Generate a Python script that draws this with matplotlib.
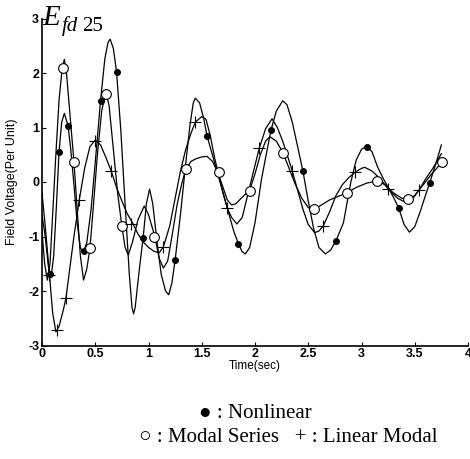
import matplotlib
matplotlib.use("Agg")
import matplotlib.pyplot as plt

# ---- Nonlinear curve ----
t_non = [0.0, 0.03, 0.06, 0.085, 0.11, 0.135, 0.16, 0.185, 0.21, 0.245, 0.27, 0.30, 0.33, 0.36, 0.385,
         0.42, 0.46, 0.50, 0.55, 0.59, 0.62, 0.64, 0.67, 0.70, 0.74, 0.78, 0.82, 0.845, 0.86,
         0.875, 0.90, 0.92, 0.95, 0.98, 1.01, 1.04, 1.08, 1.12, 1.16, 1.19,
         1.22, 1.25, 1.30, 1.35, 1.39, 1.42, 1.44, 1.48, 1.52, 1.55, 1.60, 1.65, 1.70, 1.75, 1.80,
         1.845, 1.88, 1.91, 1.95, 2.00, 2.06, 2.10, 2.15, 2.20, 2.26, 2.30, 2.35, 2.40, 2.45, 2.50,
         2.55, 2.60, 2.66, 2.71, 2.76, 2.83, 2.90, 2.95, 3.00, 3.05, 3.10, 3.15, 3.20, 3.25, 3.30,
         3.35, 3.40, 3.45, 3.50, 3.55, 3.60, 3.64, 3.70, 3.75]
v_non = [-0.6, -1.0, -1.55, -1.75, -1.35, -0.45, 0.55, 1.1, 1.26, 1.03, 0.6, -0.05, -0.75, -1.2, -1.3,
         -1.12, -0.52, 0.36, 1.5, 2.26, 2.56, 2.62, 2.45, 2.02, 0.95, -0.4, -1.7, -2.3, -2.42,
         -2.3, -1.85, -1.5, -1.02, -0.4, -0.13, -0.4, -1.1, -1.7, -2.0, -2.07,
         -1.85, -1.43, -0.6, 0.35, 1.05, 1.45, 1.54, 1.45, 1.15, 0.84, 0.5, 0.15, -0.2, -0.55, -0.9,
         -1.14, -1.28, -1.32, -1.2, -0.75, 0.04, 0.45, 0.95, 1.3, 1.49, 1.42, 1.1, 0.65, 0.2, -0.35,
         -0.85, -1.2, -1.32, -1.25, -1.08, -0.75, 0.0, 0.4, 0.6, 0.66, 0.55, 0.28, 0.08, -0.1, -0.28,
         -0.48, -0.78, -0.92, -0.82, -0.55, -0.25, -0.02, 0.35, 0.68]

# ---- Modal Series curve ----
t_mod = [0.0, 0.025, 0.05, 0.075, 0.10, 0.13, 0.16, 0.19, 0.21, 0.23, 0.26, 0.30, 0.33, 0.36, 0.39,
         0.42, 0.45, 0.48, 0.52, 0.56, 0.60, 0.63, 0.67, 0.71, 0.75, 0.78, 0.81, 0.85, 0.90, 0.96,
         1.00, 1.03, 1.06, 1.10, 1.14, 1.18, 1.22, 1.27, 1.31, 1.35, 1.40, 1.45, 1.50, 1.55, 1.60,
         1.65, 1.70, 1.74, 1.78, 1.82, 1.87, 1.95, 2.00, 2.05, 2.10, 2.14, 2.20, 2.26, 2.32, 2.38,
         2.44, 2.50, 2.54, 2.60, 2.70, 2.80, 2.86, 2.95, 3.05, 3.15, 3.22, 3.30, 3.38, 3.44, 3.50,
         3.58, 3.66, 3.76]
v_mod = [-0.9, -1.5, -1.8, -1.5, -0.6, 0.5, 1.5, 2.1, 2.25, 2.0, 1.3, 0.37, -0.5, -1.35, -1.8,
         -1.6, -1.22, -0.5, 0.5, 1.3, 1.65, 1.4, 0.6, -0.2, -0.81, -1.2, -1.34, -1.1, -0.7, -0.44,
         -0.6, -0.8, -1.0, -1.4, -1.58, -1.45, -1.0, -0.4, -0.05, 0.24, 0.38, 0.43, 0.46, 0.47, 0.38,
         0.18, -0.1, -0.33, -0.42, -0.4, -0.3, -0.15, 0.15, 0.5, 0.75, 0.83, 0.75, 0.55, 0.25, -0.05,
         -0.3, -0.47, -0.52, -0.45, -0.33, -0.25, -0.2, -0.1, -0.02, 0.02, -0.05, -0.2, -0.3, -0.31, -0.25,
         -0.05, 0.15, 0.37]

# ---- Linear Modal curve ----
t_lin = [0.0, 0.03, 0.07, 0.10, 0.13, 0.16, 0.20, 0.225, 0.26, 0.30, 0.35, 0.40, 0.45, 0.50, 0.55,
         0.60, 0.65, 0.70, 0.75, 0.80, 0.85, 0.90, 0.95, 1.00, 1.05, 1.10, 1.14, 1.20, 1.25, 1.30,
         1.35, 1.40, 1.44, 1.50, 1.54, 1.58, 1.62, 1.65, 1.70, 1.74, 1.78, 1.83, 1.88, 1.93, 1.98,
         2.04, 2.10, 2.16, 2.21, 2.26, 2.31, 2.35, 2.40, 2.45, 2.50, 2.56, 2.60, 2.64, 2.70, 2.76,
         2.82, 2.88, 2.94, 3.00, 3.03, 3.10, 3.18, 3.26, 3.34, 3.42, 3.48, 3.54, 3.60, 3.67, 3.75]
v_lin = [-0.2, -0.8, -1.7, -2.4, -2.75, -2.65, -2.35, -2.13, -1.6, -1.0, -0.33, 0.25, 0.65, 0.77, 0.68,
         0.45, 0.2, -0.1, -0.35, -0.58, -0.75, -0.95, -1.1, -1.2, -1.27, -1.3, -1.19, -0.8, -0.3, 0.2,
         0.6, 0.9, 1.1, 1.2, 1.15, 0.85, 0.45, 0.2, -0.2, -0.48, -0.65, -0.77, -0.65, -0.25, 0.15,
         0.62, 0.98, 1.16, 1.0, 0.75, 0.45, 0.2, -0.15, -0.5, -0.78, -0.93, -0.9, -0.81, -0.55, -0.25,
         -0.05, 0.08, 0.18, 0.25, 0.27, 0.2, 0.05, -0.15, -0.3, -0.38, -0.3, -0.15, 0.05, 0.25, 0.52]

# ---- marker positions ----
t_non_mk = [0.075, 0.16, 0.245, 0.39, 0.55, 0.70, 0.95, 1.25, 1.55, 1.845, 2.15, 2.45, 2.76, 3.05, 3.35, 3.64]
v_non_mk = [-1.69, 0.55, 1.03, -1.27, 1.49, 2.02, -1.02, -1.43, 0.84, -1.14, 0.95, 0.2, -1.08, 0.64, -0.48, -0.02]
t_mod_mk = [0.2, 0.3, 0.45, 0.6, 0.75, 1.05, 1.35, 1.66, 1.95, 2.26, 2.55, 2.86, 3.15, 3.44, 3.76]
v_mod_mk = [2.09, 0.37, -1.22, 1.62, -0.81, -1.0, 0.24, 0.18, -0.16, 0.54, -0.5, -0.21, 0.02, -0.31, 0.37]
t_lin_mk = [0.07, 0.14, 0.225, 0.35, 0.5, 0.65, 0.84, 1.14, 1.44, 1.74, 2.04, 2.35, 2.64, 2.94, 3.25, 3.54]
v_lin_mk = [-1.7, -2.72, -2.13, -0.33, 0.76, 0.2, -0.77, -1.19, 1.1, -0.48, 0.62, 0.2, -0.81, 0.18, -0.13, -0.15]

x_ticks = [0, 0.5, 1, 1.5, 2, 2.5, 3, 3.5, 4]
x_tick_labels = ["0", "0.5", "1", "1.5", "2", "2.5", "3", "3.5", "4"]
y_ticks = [-3, -2, -1, 0, 1, 2, 3]
y_tick_labels = ["-3", "-2", "-1", "0", "1", "2", "3"]

W, H = 470, 459
fig = plt.figure(figsize=(W / 100, H / 100), dpi=100)
ax = fig.add_axes([42 / W, 1 - 345.5 / H, 426 / W, 327 / H])

lw = 0.9
ax.plot(t_non, v_non, color="black", lw=lw)
ax.plot(t_mod, v_mod, color="black", lw=lw)
ax.plot(t_lin, v_lin, color="black", lw=lw)
ax.plot(t_non_mk, v_non_mk, ls="none", marker="o", ms=4, mfc="black", mec="black")
ax.plot(t_mod_mk, v_mod_mk, ls="none", marker="o", ms=7, mfc="white", mec="black", mew=0.8)
ax.plot(t_lin_mk, v_lin_mk, ls="none", marker="+", ms=8, mec="black", mew=0.8)

ax.set_xlim(0, 4)
ax.set_ylim(-3, 3)
ax.set_xticks(x_ticks)
ax.set_xticklabels(x_tick_labels)
ax.set_yticks(y_ticks)
ax.set_yticklabels(y_tick_labels)
for s in ["top", "right"]:
    ax.spines[s].set_visible(False)
for s in ["left", "bottom"]:
    ax.spines[s].set_linewidth(1.2)
ax.tick_params(direction="in", length=3, width=0.8, labelsize=9, pad=2)
for lab in ax.get_xticklabels() + ax.get_yticklabels():
    lab.set_family("Liberation Sans")
    lab.set_fontweight("bold")

ax.set_xlabel("Time(sec)", fontsize=8.5, family="Liberation Sans", labelpad=0)
ax.set_ylabel("Field Voltage(Per Unit)", fontsize=9, family="Liberation Sans", labelpad=7)

fig.text(42 / W, 1 - 25 / H, "E", fontsize=21, family="Liberation Serif", style="italic",
         va="baseline", ha="left")
fig.text(62 / W, 1 - 31 / H, "fd", fontsize=15, family="Liberation Serif", style="italic",
         va="baseline", ha="left")
fig.text(82 / W, 1 - 31 / H, "25", fontsize=15, family="Liberation Serif",
         va="baseline", ha="left")

fig.text(255 / W, 1 - 413 / H, "\u25CF : Nonlinear", fontsize=15,
         family=["Liberation Serif", "DejaVu Sans"], ha="center", va="center")
fig.text(288 / W, 1 - 438 / H, "\u25CB : Modal Series   + : Linear Modal", fontsize=15,
         family=["Liberation Serif", "DejaVu Sans"], ha="center", va="center")

fig.savefig("out.png", dpi=100)
